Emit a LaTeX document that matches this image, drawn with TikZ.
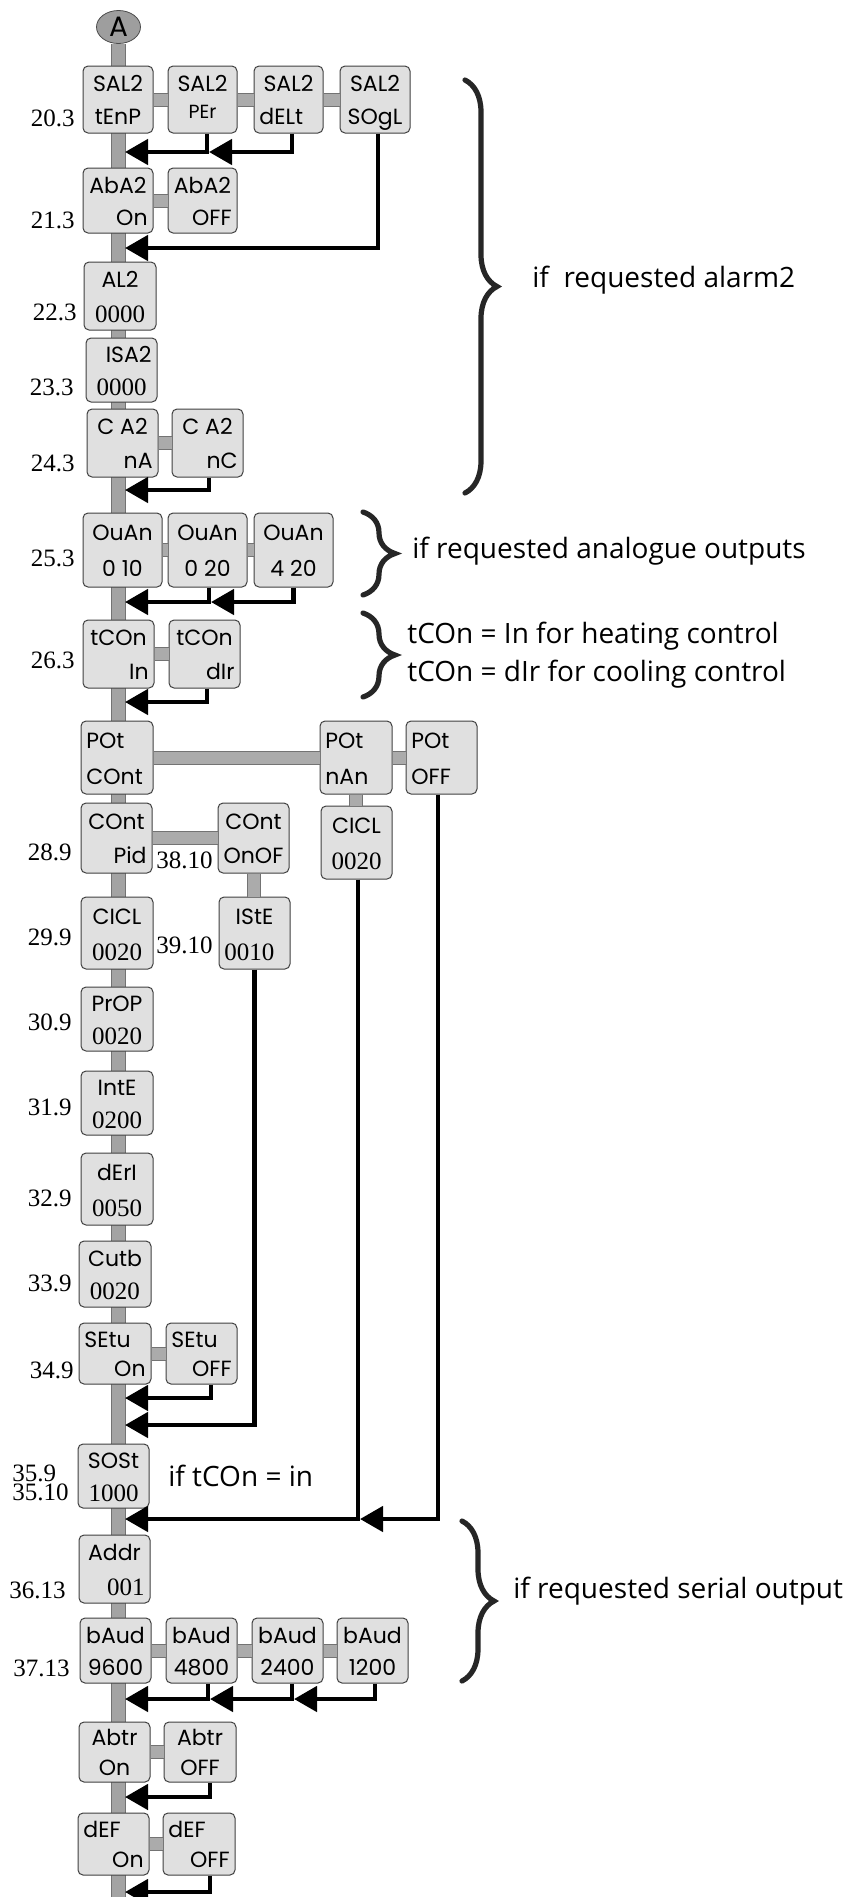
\documentclass[tikz,border=0pt]{standalone}
\usepackage{fontspec}
\usetikzlibrary{arrows.meta,shapes.geometric,decorations.pathreplacing,calc}
\newfontfamily\boxf{Poppins}
\newfontfamily\numf{Liberation Serif}
\newfontfamily\notef{Open Sans}
\tikzset{
  pbox/.style={draw=black!75, fill=black!12, rounded corners=2.5pt, line width=0.5pt, inner sep=0pt},
  btxt/.style={font=\boxf\fontsize{11}{12}\selectfont, inner sep=0pt, text height=7.6pt, text depth=0pt},
  nf/.style={font=\numf\fontsize{12.5}{14}\selectfont, text height=8.4pt},
  tac/.style={anchor=center},
  tal/.style={anchor=west, xshift=-\pbhw pt+2.5pt},
  tar/.style={anchor=east, xshift=\pbhw pt-2.5pt},
  spine/.style={draw=black!55, line width=0.5pt, double=black!36, double distance=6.5pt},
  hbar/.style={draw=black!55, line width=0.5pt, double=black!33, double distance=6pt},
  arr/.style={line width=2.3pt, -{Triangle[length=11.5pt,width=12.5pt]}},
  lab/.style={font=\numf\fontsize{12.5}{14}\selectfont, inner sep=0pt, text height=8.3pt, text depth=0pt},
  note/.style={font=\notef\fontsize{14}{16}\selectfont, anchor=base west, inner sep=0pt},
  brc/.style={decorate, decoration={brace, amplitude=16pt}, line width=2.6pt, draw=black!85, line cap=round},
}
\newcommand\pbx[9]{%
  \pgfmathsetmacro\pbcx{(#2+#4)/2}%
  \pgfmathsetmacro\pbcy{(#3+#5)/2}%
  \pgfmathsetmacro\pbw{(#4-#2)*0.5}%
  \pgfmathsetmacro\pbh{(#5-#3)*0.5}%
  \pgfmathsetmacro\pbhw{(#4-#2)*0.25}%
  \pgfmathsetmacro\pbyt{#3+0.27*(#5-#3)}%
  \pgfmathsetmacro\pbyb{#3+0.76*(#5-#3)}%
  \node[pbox, minimum width=\pbw pt, minimum height=\pbh pt] (#1) at (\pbcx,\pbcy) {};
  \node[btxt,#6] (#1-t) at (\pbcx,\pbyt) {#7};
  \node[btxt,#8] (#1-b) at (\pbcx,\pbyb) {#9};
}
\begin{document}
\begin{tikzpicture}[x=0.5pt,y=-0.5pt]
\useasboundingbox (0,0) rectangle (856,1897);
% start node and spine
\node[ellipse, draw=black!70, fill=black!38, minimum width=22pt, minimum height=16.5pt, inner sep=0pt, font=\boxf\fontsize{14}{15}\selectfont] (A) at (118.5,27) {A};
\coordinate (spinebot) at (118.5,1897);
\draw[spine] (A.south) -- (spinebot);

% boxes
\pbx{sal2a}{83}{66}{153}{133}{tac}{SAL2}{tac}{tEnP}
\pbx{sal2b}{168}{66}{237}{133}{tac}{SAL2}{tac,yshift=3pt,font=\boxf\fontsize{9.5}{11}\selectfont}{PEr}
\pbx{sal2c}{254}{66}{323}{133}{tac}{SAL2}{tal}{dELt}
\pbx{sal2d}{340}{66}{410}{133}{tac}{SAL2}{tac}{SOgL}
\pbx{aba2a}{83}{168}{153}{233}{tac}{AbA2}{tar}{On}
\pbx{aba2b}{168}{168}{237}{233}{tac}{AbA2}{tar}{OFF}
\pbx{al2}{84}{262}{156}{330}{tac}{AL2}{tac,nf}{0000}
\pbx{isa2}{86}{338}{157}{402}{tar}{ISA2}{tac,nf}{0000}
\pbx{ca2a}{87}{409}{158}{477}{tac}{C A2}{tar}{nA}
\pbx{ca2b}{172}{409}{243}{477}{tac}{C A2}{tar}{nC}
\pbx{ouana}{83}{513}{162}{587}{tac}{OuAn}{tac}{0 10}
\pbx{ouanb}{168}{513}{247}{587}{tac}{OuAn}{tac}{0 20}
\pbx{ouanc}{254}{513}{333}{587}{tac}{OuAn}{tac}{4 20}
\pbx{tcona}{83}{620}{154}{688}{tac}{tCOn}{tar}{In}
\pbx{tconb}{169}{620}{240}{688}{tac}{tCOn}{tar}{dIr}
\pbx{pota}{81}{721}{153}{794}{tal}{POt}{tal}{COnt}
\pbx{potb}{320}{721}{392}{794}{tal}{POt}{tal}{nAn}
\pbx{potc}{406}{721}{477}{794}{tal}{POt}{tal}{OFF}
\pbx{conta}{81}{803}{152}{873}{tac}{COnt}{tar}{Pid}
\pbx{contb}{218}{803}{289}{873}{tac}{COnt}{tac}{OnOF}
\pbx{ciclr}{321}{806}{392}{879}{tac}{CICL}{tac,nf}{0020}
\pbx{cicl}{81}{897}{153}{969}{tac}{CICL}{tac,nf}{0020}
\pbx{iste}{219}{897}{290}{969}{tac}{IStE}{tal,nf}{0010}
\pbx{prop}{81}{987}{153}{1051}{tac}{PrOP}{tac,nf}{0020}
\pbx{inte}{81}{1071}{153}{1135}{tac}{IntE}{tac,nf}{0200}
\pbx{derl}{81}{1153}{153}{1225}{tac}{dErI}{tac,nf}{0050}
\pbx{cutb}{79}{1241}{151}{1307}{tac}{Cutb}{tac,nf}{0020}
\pbx{setua}{79}{1323}{151}{1384}{tal}{SEtu}{tar}{On}
\pbx{setub}{166}{1323}{237}{1384}{tal}{SEtu}{tar}{OFF}
\pbx{sost}{78}{1444}{149}{1508}{tac}{SOSt}{tac,nf}{1000}
\pbx{addr}{79}{1535}{150}{1603}{tac}{Addr}{tar,nf}{001}
\pbx{bauda}{80}{1618}{151}{1683}{tac}{bAud}{tac}{9600}
\pbx{baudb}{166}{1618}{237}{1683}{tac}{bAud}{tac}{4800}
\pbx{baudc}{252}{1618}{323}{1683}{tac}{bAud}{tac}{2400}
\pbx{baudd}{337}{1618}{408}{1683}{tac}{bAud}{tac}{1200}
\pbx{abtra}{79}{1722}{150}{1782}{tac}{Abtr}{tac}{On}
\pbx{abtrb}{164}{1722}{236}{1782}{tac}{Abtr}{tac}{OFF}
\pbx{defa}{78}{1813}{149}{1875}{tal}{dEF}{tar}{On}
\pbx{defb}{163}{1813}{235}{1875}{tal}{dEF}{tar}{OFF}

% grey link bars
\draw[hbar] (sal2a.east) -- (sal2b.west);
\draw[hbar] (sal2b.east) -- (sal2c.west);
\draw[hbar] (sal2c.east) -- (sal2d.west);
\draw[hbar] (aba2a.east) -- (aba2b.west);
\draw[hbar] (ca2a.east) -- (ca2b.west);
\draw[hbar] (ouana.east) -- (ouanb.west);
\draw[hbar] (ouanb.east) -- (ouanc.west);
\draw[hbar] (tcona.east) -- (tconb.west);
\draw[hbar] (pota.east) -- (potb.west);
\draw[hbar] (potb.east) -- (potc.west);
\draw[hbar] (conta.east) -- (contb.west);
\draw[hbar] (potb.south) -- (potb.south |- ciclr.north);
\draw[hbar] (contb.south) -- (contb.south |- iste.north);
\draw[hbar] (setua.east) -- (setub.west);
\draw[hbar] (bauda.east) -- (baudb.west);
\draw[hbar] (baudb.east) -- (baudc.west);
\draw[hbar] (baudc.east) -- (baudd.west);
\draw[hbar] (abtra.east) -- (abtrb.west);
\draw[hbar] (defa.east) -- (defb.west);

% return arrows
\coordinate (e1) at (125,152);
\coordinate (e2) at (209,152);
\coordinate (e3) at (125,248);
\coordinate (e4) at (125,490);
\coordinate (e5) at (125,602);
\coordinate (e6) at (211,602);
\coordinate (e7) at (125,702);
\coordinate (e8) at (125,1398);
\coordinate (e9) at (125,1425);
\coordinate (e10) at (125,1519);
\coordinate (e11) at (360,1519);
\coordinate (e12) at (125,1699);
\coordinate (e13) at (210,1699);
\coordinate (e14) at (294,1699);
\coordinate (e15) at (125,1797);
\coordinate (e16) at (125,1892);
\draw[arr] ([xshift=2.25pt]sal2b.south) |- (e1);
\draw[arr] ([xshift=1.75pt]sal2c.south) |- (e2);
\draw[arr] ([xshift=1.5pt]sal2d.south) |- (e3);
\draw[arr] ([xshift=0.75pt]ca2b.south) |- (e4);
\draw[arr] ([xshift=0.75pt]ouanb.south) |- (e5);
\draw[arr] (ouanc.south) |- (e6);
\draw[arr] ([xshift=1.25pt]tconb.south) |- (e7);
\draw[arr] ([xshift=4.75pt]setub.south) |- (e8);
\draw[arr] (iste.south) |- (e9);
\draw[arr] ([xshift=0.75pt]ciclr.south) |- (e10);
\draw[arr] ([xshift=-1.75pt]potc.south) |- (e11);
\draw[arr] ([xshift=3.25pt]baudb.south) |- (e12);
\draw[arr] ([xshift=2.25pt]baudc.south) |- (e13);
\draw[arr] ([xshift=1.25pt]baudd.south) |- (e14);
\draw[arr] ([xshift=5pt]abtrb.south) |- (e15);
\draw[arr] ([xshift=5.5pt]defb.south) |- (e16);

% step labels
\node[lab, anchor=east] (l203) at (75,118) {20.3};
\node[lab, anchor=east] (l213) at (75,220) {21.3};
\node[lab, anchor=east] (l223) at (77,312) {22.3};
\node[lab, anchor=east] (l233) at (74,387) {23.3};
\node[lab, anchor=east] (l243) at (75,463) {24.3};
\node[lab, anchor=east] (l253) at (75,558) {25.3};
\node[lab, anchor=east] (l263) at (75,660) {26.3};
\node[lab, anchor=east] (l289) at (72,852) {28.9};
\node[lab, anchor=east] (l299) at (72,937) {29.9};
\node[lab, anchor=east] (l309) at (72,1022) {30.9};
\node[lab, anchor=east] (l319) at (72,1107) {31.9};
\node[lab, anchor=east] (l329) at (72,1198) {32.9};
\node[lab, anchor=east] (l339) at (72,1283) {33.9};
\node[lab, anchor=east] (l349) at (74,1370) {34.9};
\node[lab, anchor=west] (l359) at (12,1473) {35.9};
\node[lab, anchor=west] (l3510) at (12,1492) {35.10};
\node[lab, anchor=east] (l3613) at (66,1590) {36.13};
\node[lab, anchor=east] (l3713) at (70,1668) {37.13};
\node[lab, anchor=west] (l3810) at (156,860) {38.10};
\node[lab, anchor=west] (l3910) at (156,945) {39.10};

% braces and notes
\draw[brc] (465,80) -- (465,493);
\draw[brc] (363,512) -- (363,595);
\draw[brc] (363,613) -- (363,697);
\draw[brc] (462,1521) -- (462,1681);
\node[note] (n1) at (532,287) {if~~requested alarm2};
\node[note] (n2) at (412,558) {if requested analogue outputs};
\node[note] (n3) at (407,643) {tCOn = In for heating control};
\node[note] (n4) at (407,681) {tCOn = dIr for cooling control};
\node[note] (n5) at (168,1486) {if tCOn = in};
\node[note] (n6) at (513,1598) {if requested serial output};
\end{tikzpicture}
\end{document}
